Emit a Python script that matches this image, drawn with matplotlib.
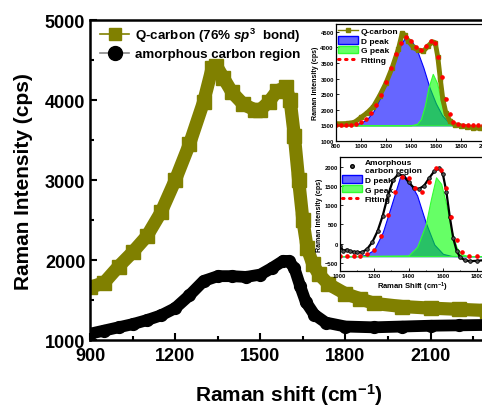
import numpy as np
import matplotlib
matplotlib.use('Agg')
import matplotlib.pyplot as plt
from matplotlib.lines import Line2D
from matplotlib.patches import Patch

plt.rcParams['font.family'] = 'Liberation Sans'
plt.rcParams['font.weight'] = 'bold'
plt.rcParams['axes.labelweight'] = 'bold'
plt.rcParams['mathtext.fontset'] = 'custom'
plt.rcParams['mathtext.rm'] = 'Liberation Sans:bold'
plt.rcParams['mathtext.it'] = 'Liberation Sans:bold:italic'
plt.rcParams['mathtext.bf'] = 'Liberation Sans:bold'

OLIVE = '#808000'

# main plot: Q-carbon spectrum
q_x = [900, 950, 1000, 1050, 1100, 1150, 1200, 1250, 1300, 1330, 1345, 1370, 1400,
       1440, 1480, 1500, 1530, 1560, 1590, 1605, 1620, 1635, 1650, 1665, 1685, 1705,
       1740, 1800, 1850, 1900, 2000, 2100, 2200, 2300]
q_y = [1660, 1720, 1920, 2100, 2300, 2600, 3000, 3450, 3980, 4400, 4430, 4280, 4100,
       3950, 3880, 3880, 3980, 4120, 4160, 4000, 3550, 3000, 2500, 2150, 1950, 1830,
       1700, 1580, 1520, 1460, 1420, 1400, 1385, 1370]

# main plot: amorphous carbon region
a_x = [900, 950, 1000, 1050, 1100, 1150, 1200, 1250, 1300, 1350, 1400, 1450, 1500,
       1540, 1580, 1600, 1620, 1640, 1660, 1690, 1730, 1800, 1900, 2000, 2100, 2200, 2300]
a_y = [1080, 1120, 1160, 1200, 1250, 1310, 1400, 1560, 1740, 1800, 1800, 1790, 1820,
       1900, 1990, 1990, 1900, 1680, 1480, 1320, 1220, 1170, 1160, 1170, 1180, 1185, 1190]

# inset 1: Q-carbon with D/G fit
i1_x = [800, 850, 900, 950, 1000, 1050, 1100, 1150, 1200, 1250, 1300, 1330, 1350, 1380,
        1420, 1460, 1500, 1540, 1570, 1595, 1615, 1635, 1655, 1680, 1710, 1750, 1800,
        1850, 1900, 1950, 2000]
i1_y = [1550, 1550, 1560, 1600, 1750, 1900, 2100, 2450, 2850, 3350, 3950, 4450, 4400, 4200,
        4000, 3900, 3880, 4050, 4180, 4150, 3700, 3000, 2350, 1900, 1650, 1520, 1480,
        1450, 1420, 1400, 1380]
i1_base = 1500
i1_d_x = [800, 900, 950, 1000, 1050, 1100, 1150, 1200, 1250, 1300, 1350, 1400, 1450, 1500,
          1550, 1600, 1650, 1700, 1750, 1800, 2000]
i1_d_y = [1500, 1505, 1530, 1580, 1700, 1950, 2350, 2850, 3400, 3950, 4300, 4250, 3900, 3350,
          2700, 2200, 1820, 1600, 1520, 1500, 1500]
i1_g_x = [800, 1400, 1450, 1480, 1510, 1540, 1575, 1610, 1640, 1670, 1700, 1730, 1760, 2000]
i1_g_y = [1500, 1500, 1550, 1700, 2100, 2700, 3150, 2850, 2300, 1850, 1620, 1530, 1500, 1500]
i1_fit_x = [800, 840, 880, 920, 960, 1000, 1040, 1080, 1120, 1160, 1200, 1240, 1280, 1320,
            1360, 1400, 1440, 1480, 1520, 1560, 1590, 1620, 1650, 1680, 1710, 1740, 1780,
            1820, 1860, 1900, 1940, 1980]
i1_fit_y = [1500, 1500, 1500, 1505, 1530, 1600, 1700, 1880, 2150, 2480, 2900, 3350, 3800, 4150,
            4320, 4220, 4000, 3900, 4050, 4200, 4150, 3700, 3050, 2350, 1850, 1620, 1530,
            1505, 1500, 1500, 1500, 1500]

# inset 2: amorphous carbon region with D/G fit
i2_x = [1000, 1020, 1040, 1060, 1080, 1100, 1130, 1160, 1190, 1220, 1250, 1280, 1310, 1340,
        1370, 1400, 1430, 1460, 1490, 1520, 1550, 1580, 1600, 1620, 1640, 1660, 1680, 1700,
        1730, 1760, 1800, 1850]
i2_y = [-50, -180, -150, -190, -210, -220, -220, -130, 50, 330, 730, 1250, 1650, 1800,
        1760, 1600, 1450, 1420, 1500, 1700, 1880, 1950, 1800, 1350, 700, 150, -180, -350,
        -430, -450, -440, -420]
i2_base = -320
i2_d_x = [1000, 1100, 1150, 1200, 1250, 1300, 1350, 1375, 1400, 1450, 1500, 1550, 1600, 1650,
          1700, 1850]
i2_d_y = [-320, -320, -290, -150, 300, 1000, 1720, 1760, 1650, 1250, 550, -20, -260, -315,
          -320, -320]
i2_g_x = [1000, 1400, 1450, 1500, 1530, 1560, 1590, 1620, 1650, 1680, 1710, 1750, 1850]
i2_g_y = [-320, -300, -80, 500, 1150, 1720, 1550, 1000, 350, -100, -270, -320, -320]
i2_fit_x = [1000, 1040, 1080, 1120, 1160, 1200, 1240, 1280, 1320, 1360, 1400, 1440, 1480,
            1520, 1560, 1590, 1620, 1650, 1680, 1710, 1750, 1800, 1850]
i2_fit_y = [-320, -320, -320, -315, -270, -150, 200, 750, 1350, 1720, 1700, 1450, 1350,
            1600, 1950, 1900, 1450, 700, 100, -200, -310, -320, -320]

fig = plt.figure(figsize=(4.82, 4.10), dpi=100)
ax = fig.add_axes([0.187, 0.168, 0.824, 0.780])

ax.plot(q_x, q_y, color=OLIVE, lw=9.5, marker='s', ms=9.5, solid_joinstyle='round')
ax.plot(a_x, a_y, color='black', lw=8.5, marker='o', ms=8.5, solid_joinstyle='round')

ax.set_xlim(900, 2300)
ax.set_ylim(1000, 5000)
ax.set_xticks([900, 1200, 1500, 1800, 2100])
ax.set_xticks([1050, 1350, 1650, 1950, 2250], minor=True)
ax.set_yticks([1000, 2000, 3000, 4000, 5000])
ax.set_yticks([1500, 2500, 3500, 4500], minor=True)
ax.tick_params(which='both', direction='in', width=1.5, labelsize=13)
ax.tick_params(axis='x', pad=5)
ax.tick_params(which='major', length=5)
ax.tick_params(which='minor', length=3)
for s in ax.spines.values():
    s.set_linewidth(1.8)
ax.set_xlabel('Raman shift (cm$^{-1}$)', fontsize=15, labelpad=12)
ax.set_ylabel('Raman Intensity (cps)', fontsize=15)
ax.yaxis.set_label_coords(-0.145, 0.5)

handles = [Line2D([], [], color=OLIVE, lw=1.2, marker='s', ms=9),
           Line2D([], [], color='#888888', lw=1.2, marker='o', mfc='black', mec='black', ms=10)]
ax.legend(handles, ['Q-carbon (76% $sp^3$  bond)', 'amorphous carbon region'],
          loc='upper left', bbox_to_anchor=(-0.005, 1.02), frameon=False, fontsize=9.6,
          handlelength=2.2, handletextpad=0.4, labelspacing=0.3)

BLUE = (0.0, 0.0, 1.0, 0.6)
GREEN = (0.0, 1.0, 0.0, 0.6)


def style_inset(a):
    a.set_facecolor('white')
    a.tick_params(which='both', direction='in', labelsize=4.2, pad=1.5, width=0.6)
    a.tick_params(which='major', length=2)
    a.tick_params(which='minor', length=1)
    for s in a.spines.values():
        s.set_linewidth(0.9)


# inset 1
ax1 = fig.add_axes([0.697, 0.654, 0.311, 0.285])
ax1.fill_between(i1_d_x, i1_base, i1_d_y, color=BLUE, edgecolor='blue', lw=0.8)
ax1.fill_between(i1_g_x, i1_base, i1_g_y, color=GREEN, edgecolor='#33ff33', lw=0.8)
ax1.plot(i1_x, i1_y, color=OLIVE, lw=3.5, marker='s', ms=3)
ax1.plot(i1_fit_x, i1_fit_y, color='red', ls='none', marker='o', ms=2.3)
ax1.set_xlim(800, 2000)
ax1.set_ylim(1000, 4750)
ax1.set_xticks(range(800, 2001, 200))
ax1.set_yticks(range(1000, 4501, 500))
style_inset(ax1)
ax1.set_ylabel('Raman Intensity (cps)', fontsize=5, labelpad=1)
h1 = [Line2D([], [], color=OLIVE, lw=1, marker='s', ms=3),
      Patch(facecolor=BLUE, edgecolor='blue'),
      Patch(facecolor=GREEN, edgecolor='#33ff33'),
      Line2D([], [], color='red', ls=(0, (0.5, 1.8)), lw=2.2, dash_capstyle='round')]
ax1.legend(h1, ['Q-carbon', 'D peak', 'G peak', 'Fitting'], loc='upper left',
           fontsize=6, frameon=False, handlelength=2.4, handleheight=1.0,
           borderaxespad=0.1, labelspacing=0.12, handletextpad=0.3, borderpad=0.2)

# inset 2
ax2 = fig.add_axes([0.705, 0.337, 0.303, 0.278])
ax2.fill_between(i2_d_x, i2_base, i2_d_y, color=BLUE, edgecolor='blue', lw=0.8)
ax2.fill_between(i2_g_x, i2_base, i2_g_y, color=GREEN, edgecolor='#33ff33', lw=0.8)
ax2.plot(i2_x, i2_y, color='black', lw=1.6, marker='o', ms=2.6, mfc='#555555', mec='black', mew=0.6)
ax2.plot(i2_fit_x, i2_fit_y, color='red', ls='none', marker='o', ms=2.3)
ax2.set_xlim(1000, 1850)
ax2.set_ylim(-700, 2250)
ax2.set_xticks(range(1000, 1801, 200))
ax2.set_xticks(range(1100, 1801, 200), minor=True)
ax2.set_yticks(range(-500, 2001, 500))
style_inset(ax2)
ax2.set_xlabel('Raman Shift (cm$^{-1}$)', fontsize=5.5, labelpad=1)
ax2.set_ylabel('Raman Intensity (cps)', fontsize=5, labelpad=1)
h2 = [Line2D([], [], color='black', ls='none', marker='o', ms=2.6, mfc='#555555'),
      Patch(facecolor=BLUE, edgecolor='blue'),
      Patch(facecolor=GREEN, edgecolor='#33ff33'),
      Line2D([], [], color='red', ls=(0, (0.5, 1.8)), lw=2.2, dash_capstyle='round')]
ax2.legend(h2, ['Amorphous\ncarbon region', 'D peak', 'G peak', 'Fitting'], loc='upper left',
           fontsize=6, frameon=False, handlelength=2.4, handleheight=1.0,
           borderaxespad=0.1, labelspacing=0.12, handletextpad=0.3, borderpad=0.2)

fig.savefig('out.png', dpi=100)
